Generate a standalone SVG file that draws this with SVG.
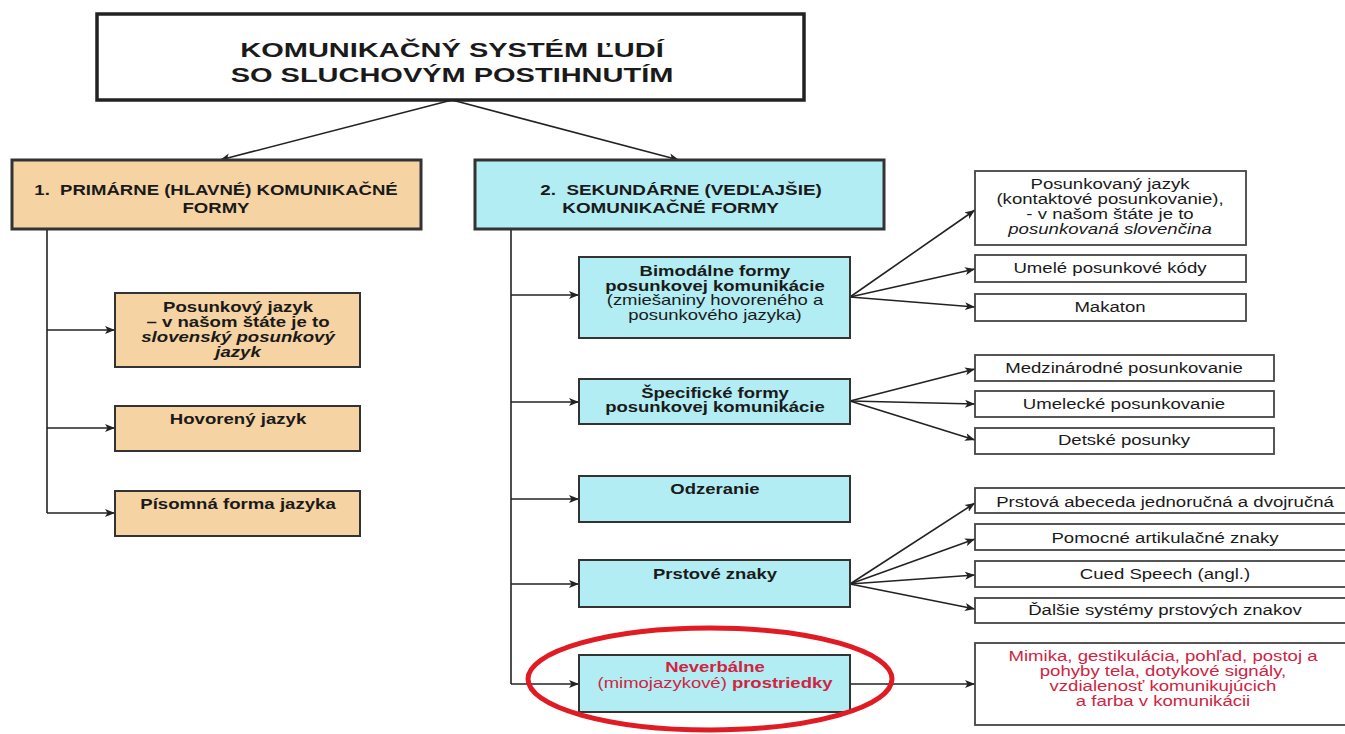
<svg xmlns="http://www.w3.org/2000/svg" width="1345" height="734" viewBox="0 0 1345 734">
<style>
  .t{font-family:"Liberation Sans",Arial,Helvetica,sans-serif;fill:#1a1a1a;text-anchor:middle}
  .b{font-weight:bold}
  .i{font-style:italic}
  .f20{font-size:20px}
  .f14{font-size:14px}
  .f145{font-size:14.5px}
  .f15{font-size:15px}
  .red{fill:#cf2442}
  .tan{fill:#f6d3a2;stroke:#333;stroke-width:2}
  .cy{fill:#b2edf3;stroke:#333;stroke-width:2}
  .hdr{stroke-width:3}
  .wb{fill:#fff;stroke:#444;stroke-width:1.8}
  .conn{stroke:#222;stroke-width:1.6;fill:none}
</style>
<defs>
  <marker id="ah" markerWidth="11" markerHeight="9" refX="10" refY="4.5" orient="auto" markerUnits="userSpaceOnUse">
    <path d="M0,0.5 L10,4.5 L0,8.5 L2.5,4.5 z" fill="#222"/>
  </marker>
</defs>
<rect width="1345" height="734" fill="#fff"/>

<g id="connectors" class="conn">
  <line x1="452" y1="100" x2="220" y2="160" marker-end="url(#ah)"/>
  <line x1="452" y1="100" x2="679" y2="160" marker-end="url(#ah)"/>
  <polyline points="47,229 47,513"/>
  <line x1="47" y1="330" x2="115" y2="330" marker-end="url(#ah)"/>
  <line x1="47" y1="428" x2="115" y2="428" marker-end="url(#ah)"/>
  <line x1="47" y1="513" x2="115" y2="513" marker-end="url(#ah)"/>
  <polyline points="511,229 511,684"/>
  <line x1="511" y1="295" x2="579" y2="295" marker-end="url(#ah)"/>
  <line x1="511" y1="402" x2="579" y2="402" marker-end="url(#ah)"/>
  <line x1="511" y1="499" x2="579" y2="499" marker-end="url(#ah)"/>
  <line x1="511" y1="584" x2="579" y2="584" marker-end="url(#ah)"/>
  <line x1="511" y1="684" x2="579" y2="684" marker-end="url(#ah)"/>
  <line x1="850" y1="297" x2="975" y2="210" marker-end="url(#ah)"/>
  <line x1="850" y1="297" x2="975" y2="269" marker-end="url(#ah)"/>
  <line x1="850" y1="297" x2="975" y2="307" marker-end="url(#ah)"/>
  <line x1="850" y1="401" x2="975" y2="369" marker-end="url(#ah)"/>
  <line x1="850" y1="401" x2="975" y2="404" marker-end="url(#ah)"/>
  <line x1="850" y1="401" x2="975" y2="440" marker-end="url(#ah)"/>
  <line x1="850" y1="584" x2="975" y2="503" marker-end="url(#ah)"/>
  <line x1="850" y1="584" x2="975" y2="539" marker-end="url(#ah)"/>
  <line x1="850" y1="584" x2="975" y2="575" marker-end="url(#ah)"/>
  <line x1="850" y1="584" x2="975" y2="609" marker-end="url(#ah)"/>
  <line x1="850" y1="684" x2="975" y2="684" marker-end="url(#ah)"/>
</g>

<g id="title">
  <rect x="97" y="14" width="707" height="86" fill="#fff" stroke="#222" stroke-width="3.5"/>
  <g transform="translate(452 0) scale(1.45 1)">
    <text class="t b f20" x="0" y="57">KOMUNIKAČNÝ SYSTÉM ĽUDÍ</text>
    <text class="t b f20" x="0" y="82">SO SLUCHOVÝM POSTIHNUTÍM</text>
  </g>
</g>

<g id="primarne">
  <rect class="tan hdr" x="12" y="160" width="409" height="69"/>
  <g transform="translate(216 0) scale(1.28 1)">
    <text class="t b f145" x="0" y="195">1.&#160; PRIMÁRNE (HLAVNÉ) KOMUNIKAČNÉ</text>
    <text class="t b f145" x="0" y="213">FORMY</text>
  </g>
</g>

<g id="sekundarne">
  <rect class="cy hdr" x="475" y="160" width="409" height="69"/>
  <g transform="translate(681 0) scale(1.3 1)">
    <text class="t b f145" x="0" y="195">2.&#160; SEKUNDÁRNE (VEDĽAJŠIE)</text>
    <text class="t b f145" x="-8" y="213">KOMUNIKAČNÉ FORMY</text>
  </g>
</g>

<g id="posunkovy-jazyk">
  <rect class="tan" x="115" y="293" width="245" height="74"/>
  <g transform="translate(238 0) scale(1.33 1)">
    <text class="t b f14" x="0" y="312">Posunkový jazyk</text>
    <text class="t b f14" x="0" y="327">– v našom štáte je to</text>
    <text class="t b i f14" x="0" y="342">slovenský posunkový</text>
    <text class="t b i f14" x="0" y="357">jazyk</text>
  </g>
</g>

<g id="hovoreny-jazyk">
  <rect class="tan" x="115" y="406" width="245" height="45"/>
  <g transform="translate(238 0) scale(1.33 1)">
    <text class="t b f14" x="0" y="424">Hovorený jazyk</text>
  </g>
</g>

<g id="pisomna-forma">
  <rect class="tan" x="115" y="491" width="245" height="45"/>
  <g transform="translate(238 0) scale(1.33 1)">
    <text class="t b f14" x="0" y="509">Písomná forma jazyka</text>
  </g>
</g>

<g id="bimodalne">
  <rect class="cy" x="579" y="257" width="271" height="81"/>
  <g transform="translate(715 0) scale(1.32 1)">
    <text class="t b f14" x="0" y="276">Bimodálne formy</text>
    <text class="t b f14" x="0" y="291">posunkovej komunikácie</text>
    <text class="t f14" x="0" y="305">(zmiešaniny hovoreného a</text>
    <text class="t f14" x="0" y="320">posunkového jazyka)</text>
  </g>
</g>

<g id="specificke">
  <rect class="cy" x="579" y="379" width="271" height="45"/>
  <g transform="translate(715 0) scale(1.32 1)">
    <text class="t b f14" x="0" y="398">Špecifické formy</text>
    <text class="t b f14" x="0" y="412">posunkovej komunikácie</text>
  </g>
</g>

<g id="odzeranie">
  <rect class="cy" x="579" y="476" width="271" height="46"/>
  <g transform="translate(715 0) scale(1.32 1)">
    <text class="t b f14" x="0" y="494">Odzeranie</text>
  </g>
</g>

<g id="prstove-znaky">
  <rect class="cy" x="579" y="560" width="271" height="47"/>
  <g transform="translate(715 0) scale(1.32 1)">
    <text class="t b f14" x="0" y="579">Prstové znaky</text>
  </g>
</g>

<g id="neverbalne">
  <rect class="cy" x="579" y="655" width="271" height="57"/>
  <g transform="translate(715 0) scale(1.32 1)">
    <text class="t b f14 red" x="0" y="672">Neverbálne</text>
    <text class="t f14 red" x="0" y="688">(mimojazykové) <tspan class="b">prostriedky</tspan></text>
  </g>
</g>

<g id="posunkovany-jazyk">
  <rect class="wb" x="975" y="171" width="271" height="74"/>
  <g transform="translate(1110 0) scale(1.24 1)">
    <text class="t f15" x="0" y="189">Posunkovaný jazyk</text>
    <text class="t f15" x="0" y="204">(kontaktové posunkovanie),</text>
    <text class="t f15" x="0" y="219">- v našom štáte je to</text>
    <text class="t i f15" x="0" y="234">posunkovaná slovenčina</text>
  </g>
</g>

<g id="umele-kody">
  <rect class="wb" x="975" y="255" width="271" height="27"/>
  <g transform="translate(1110 0) scale(1.24 1)">
    <text class="t f15" x="0" y="273">Umelé posunkové kódy</text>
  </g>
</g>

<g id="makaton">
  <rect class="wb" x="975" y="294" width="271" height="27"/>
  <g transform="translate(1110 0) scale(1.24 1)">
    <text class="t f15" x="0" y="312">Makaton</text>
  </g>
</g>

<g id="medzinarodne">
  <rect class="wb" x="975" y="355" width="299" height="26"/>
  <g transform="translate(1124 0) scale(1.24 1)">
    <text class="t f15" x="0" y="373">Medzinárodné posunkovanie</text>
  </g>
</g>

<g id="umelecke">
  <rect class="wb" x="975" y="391" width="299" height="26"/>
  <g transform="translate(1124 0) scale(1.24 1)">
    <text class="t f15" x="0" y="409">Umelecké posunkovanie</text>
  </g>
</g>

<g id="detske">
  <rect class="wb" x="975" y="428" width="299" height="26"/>
  <g transform="translate(1124 0) scale(1.24 1)">
    <text class="t f15" x="0" y="445">Detské posunky</text>
  </g>
</g>

<g id="prstova-abeceda">
  <rect class="wb" x="975" y="488" width="385" height="25"/>
  <g transform="translate(1165 0) scale(1.24 1)">
    <text class="t f15" x="0" y="507">Prstová abeceda jednoručná a dvojručná</text>
  </g>
</g>

<g id="pomocne-znaky">
  <rect class="wb" x="975" y="524" width="385" height="26"/>
  <g transform="translate(1165 0) scale(1.24 1)">
    <text class="t f15" x="0" y="543">Pomocné artikulačné znaky</text>
  </g>
</g>

<g id="cued-speech">
  <rect class="wb" x="975" y="561" width="385" height="26"/>
  <g transform="translate(1165 0) scale(1.24 1)">
    <text class="t f15" x="0" y="579">Cued Speech (angl.)</text>
  </g>
</g>

<g id="dalsie-systemy">
  <rect class="wb" x="975" y="598" width="385" height="25"/>
  <g transform="translate(1165 0) scale(1.24 1)">
    <text class="t f15" x="0" y="615">Ďalšie systémy prstových znakov</text>
  </g>
</g>

<g id="mimika">
  <rect class="wb" x="975" y="643" width="385" height="82"/>
  <g transform="translate(1163 0) scale(1.24 1)">
    <text class="t f15 red" x="0" y="661">Mimika, gestikulácia, pohľad, postoj a</text>
    <text class="t f15 red" x="0" y="676">pohyby tela, dotykové signály,</text>
    <text class="t f15 red" x="0" y="691">vzdialenosť komunikujúcich</text>
    <text class="t f15 red" x="0" y="706">a farba v komunikácii</text>
  </g>
</g>

<ellipse id="highlight" cx="710" cy="679" rx="182" ry="51" fill="none" stroke="#e01b24" stroke-width="5"/>
</svg>
